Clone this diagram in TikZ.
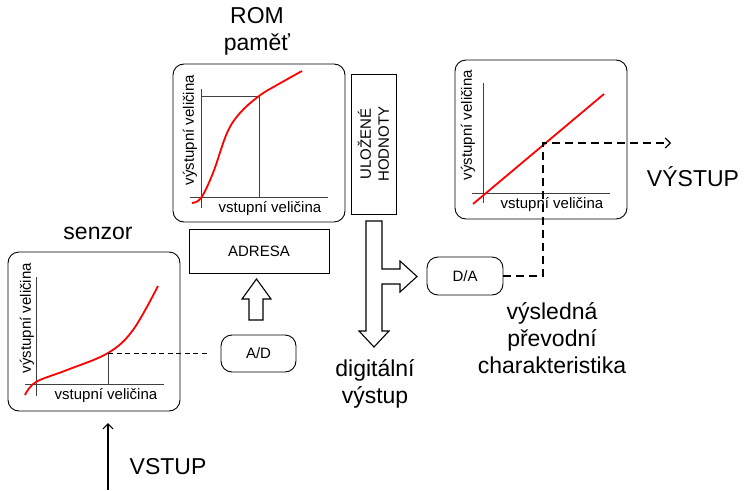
\documentclass[tikz,border=0pt]{standalone}
\usepackage{fontspec}
\setmainfont{Liberation Sans}
\usetikzlibrary{arrows.meta}
\begin{document}
\begin{tikzpicture}[x=1pt,y=-1pt,
  big/.style={font=\fontsize{23}{26}\selectfont, align=center, inner sep=0pt},
  small/.style={font=\fontsize{15}{18}\selectfont, inner sep=0pt},
  panel/.style={draw, rounded corners=11pt, line width=0.9pt},
  plainbox/.style={draw, line width=0.9pt},
  pill/.style={draw, rounded corners=11pt, line width=0.9pt, font=\fontsize{15}{18}\selectfont, minimum height=37pt, inner sep=0pt},
  axis/.style={line width=0.9pt, draw=black!75},
  redc/.style={red, line width=1.8pt},
  hollow/.style={draw, fill=white, line width=1.1pt, line join=miter},
  thickdash/.style={line width=1.8pt, dash pattern=on 8pt off 5pt},
  tip/.style={-{Straight Barb[length=5pt, width=10pt, line width=1.2pt]}}
]
\useasboundingbox (0,0) rectangle (744,490);

% ---------- sensor ----------
\node[big] (senzorlbl) at (98,233) {senzor};
\draw[panel] (8,252) rectangle (180,411);
\draw[axis] (36,277) -- (36,396);
\draw[axis] (25,384) -- (164,384);
\node[small, rotate=90] (sy) at (27,318) {výstupní veličina};
\node[small] (sx) at (106,396) {vstupní veličina};
\draw[axis] (108,353) -- (108,384);
\draw[redc] plot[smooth, tension=0.6] coordinates {(25,395) (36,382) (67,370) (108,353) (133,330) (158,286)};
\coordinate (sp) at (108,353);

% ---------- A/D ----------
\node[pill, minimum width=75pt] (AD) at (258.5,353.5) {A/D};
\coordinate (adend) at (208,353);
\draw[dashed, line width=0.8pt, dash pattern=on 5pt off 3.5pt] (sp) -- (adend);

% hollow up arrow
\draw[hollow] (249,320) -- (249,299) -- (242,299) -- (256.5,279) -- (271,299) -- (263,299) -- (263,320) -- cycle;

% ---------- ADRESA ----------
\node[plainbox, minimum width=140pt, minimum height=44pt, font=\fontsize{15}{18}\selectfont] (adresa) at (259,251) {ADRESA};

% ---------- ROM ----------
\node[big] (rom) at (257,31) {ROM\\[1pt]paměť};
\draw[panel] (173,64) rectangle (345,222);
\draw[axis] (201,89) -- (201,208);
\draw[axis] (190,197) -- (328,197);
\draw[axis] (201,96) -- (259,96) -- (259,197);
\node[small, rotate=90] (ry) at (190,130) {výstupní veličina};
\node[small] (rx) at (270,209) {vstupní veličina};
\draw[redc] plot[smooth, tension=0.6] coordinates {(192,203) (201,198) (213,173) (227,133) (240,113) (259,96) (277,85) (302,71)};

% ---------- stored values ----------
\node[plainbox, minimum width=140pt, minimum height=45pt, rotate=90, font=\fontsize{15}{18}\selectfont, align=center, inner sep=0pt] (ulozene) at (373.5,144) {ULOŽENÉ\\HODNOTY};

% branching hollow arrow
\draw[hollow] (366,221) -- (382,221) -- (382,269) -- (400,269) -- (400,261) -- (417,276.5) -- (400,292) -- (400,284) -- (382,284) -- (382,331) -- (389,331) -- (374,347) -- (359,331) -- (366,331) -- cycle;

\node[big] (digi) at (375,384) {digitální\\[1pt]výstup};

% ---------- D/A ----------
\node[pill, minimum width=76pt, minimum height=38pt] (DA) at (465,276) {D/A};

% ---------- result ----------
\draw[panel] (455,60) rectangle (627,219);
\draw[axis] (483,83) -- (483,203);
\draw[axis] (472,193) -- (610,193);
\node[small, rotate=90] (oy) at (468,125) {výstupní veličina};
\node[small] (ox) at (552,205) {vstupní veličina};
\draw[redc] (473,204) -- (604,94);

\coordinate (c1) at (543,276);
\coordinate (c2) at (543,143);
\coordinate (outend) at (671,143);
\draw[thickdash, tip] (DA.east) -- (c1) -- (c2) -- (outend);

\node[big] (vystup) at (693,177) {VÝSTUP};
\node[big] (vysl) at (552,338) {výsledná\\[1pt]převodní\\[1pt]charakteristika};

% ---------- input ----------
\coordinate (inbot) at (108,490);
\coordinate (intop) at (108,423);
\draw[line width=1.3pt, tip] (inbot) -- (intop);
\node[big] (vstup) at (168,467) {VSTUP};
\end{tikzpicture}
\end{document}
